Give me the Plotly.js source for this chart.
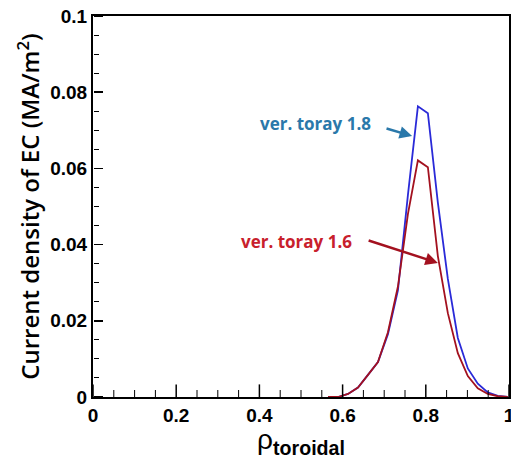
<!DOCTYPE html>
<html>
<head>
<meta charset="utf-8">
<script src="https://cdn.plot.ly/plotly-3.0.1.min.js"></script>
<style>html,body{margin:0;padding:0;background:#fff;}#chart{width:511px;height:459px;}</style>
</head>
<body>
<div id="chart"></div>
<script>
const rho = [0.565, 0.589, 0.613, 0.637, 0.661, 0.685, 0.709, 0.733, 0.757, 0.781, 0.805, 0.829, 0.853, 0.877, 0.901, 0.925, 0.949, 0.973, 0.997];
const toray18 = [0, 0, 0.0008, 0.0025, 0.0058, 0.0092, 0.0165, 0.028, 0.053, 0.0763, 0.0745, 0.051, 0.031, 0.0155, 0.0075, 0.0035, 0.0012, 0.0003, 0];
const toray16 = [0, 0, 0.0008, 0.0025, 0.0058, 0.0092, 0.017, 0.029, 0.048, 0.0621, 0.0603, 0.037, 0.022, 0.0115, 0.0055, 0.0023, 0.0008, 0.0002, 0];
const xTicks = [0, 0.2, 0.4, 0.6, 0.8, 1];
const xMinorTicks = [0.05, 0.1, 0.15, 0.25, 0.3, 0.35, 0.45, 0.5, 0.55, 0.65, 0.7, 0.75, 0.85, 0.9, 0.95];
const xTickLabels = ['0', '0.2', '0.4', '0.6', '0.8', '1'];
const yTicks = [0, 0.02, 0.04, 0.06, 0.08, 0.1];
const yTickLabels = ['0', '0.02', '0.04', '0.06', '0.08', '0.1'];
const label18 = 'ver. toray 1.8';
const label16 = 'ver. toray 1.6';
const xTitle = 'ρ<sub><b>toroidal</b></sub>';
const yTitle = 'Current density of EC (MA/m<sup>2</sup>)';

const blue = '#2a2ad8';
const red = '#a3111f';
const blueText = '#2a78aa';
const redText = '#c8202c';

const helper = (xa, ya) => ({x: rho, y: toray18, xaxis: xa, yaxis: ya, mode: 'markers', marker: {opacity: 0}, hoverinfo: 'skip'});
// x-axis tick marks drawn as vertical line markers sitting on the bottom axis (lower half clipped by the plot area)
const xTickMarks = (vals, len, w) => ({
  x: vals, y: vals.map(() => 0), mode: 'markers', cliponaxis: true, hoverinfo: 'skip',
  marker: {symbol: 'line-ns', size: len * 2, color: '#000', line: {color: '#000', width: w}}
});

const traces = [
  {x: rho, y: toray18, mode: 'lines', line: {color: blue, width: 1.8}, name: label18},
  {x: rho, y: toray16, mode: 'lines', line: {color: red, width: 1.8}, name: label16},
  xTickMarks(xTicks, 9, 1.5),
  xTickMarks(xMinorTicks, 5, 1),
  // invisible helpers so the tick-only y axes (major / minor ticks pointing inward) are drawn
  helper('x', 'y2'), helper('x', 'y3')
];

const tickFont = {family: 'Liberation Sans, Arial, sans-serif', size: 19, color: '#000', weight: 'bold'};
const bold = a => a.map(s => '<b>' + s + '</b>');
const tickAxis = (extra) => Object.assign({
  ticks: 'outside', tickcolor: '#000', showticklabels: false,
  showgrid: false, zeroline: false, showline: false, anchor: 'free', position: 0
}, extra);

const layout = {
  width: 511, height: 459,
  margin: {l: 93, r: 2, t: 16, b: 62},
  paper_bgcolor: '#fff', plot_bgcolor: '#fff',
  showlegend: false,
  xaxis: {
    range: [0, 1], tickmode: 'array', tickvals: xTicks, ticktext: bold(xTickLabels),
    ticks: '', showline: true, linecolor: '#000', linewidth: 2, mirror: true,
    showgrid: false, zeroline: false, tickfont: tickFont, ticklabeloverflow: 'allow',
    title: {text: xTitle, font: {family: 'Liberation Sans, Arial, sans-serif', size: 28, color: '#000'}, standoff: 6}
  },
  yaxis: {
    range: [0, 0.1], tickmode: 'array', tickvals: yTicks, ticktext: bold(yTickLabels),
    ticks: '', showline: true, linecolor: '#000', linewidth: 2, mirror: true,
    showgrid: false, zeroline: false, tickfont: tickFont,
    title: {text: yTitle, font: {family: 'Open Sans, sans-serif', size: 24, color: '#000', weight: 600}, standoff: 4}
  },
  yaxis2: tickAxis({overlaying: 'y', side: 'right', range: [0, 0.1], tickmode: 'array', tickvals: yTicks, ticklen: 9, tickwidth: 1.5}),
  yaxis3: tickAxis({overlaying: 'y', side: 'right', range: [0, 0.1], tick0: 0, dtick: 0.005, ticklen: 5, tickwidth: 1}),
  annotations: [
    {x: 0.536, y: 0.0717, xref: 'x', yref: 'y', text: '<b>' + label18 + '</b>', showarrow: false,
     font: {family: 'Open Sans, sans-serif', size: 17, color: blueText}},
    {x: 0.767, y: 0.0685, ax: 0.702, ay: 0.0706, xref: 'x', yref: 'y', axref: 'x', ayref: 'y', text: '',
     showarrow: true, arrowhead: 2, arrowsize: 1, arrowwidth: 2.5, arrowcolor: blueText},
    {x: 0.49, y: 0.0409, xref: 'x', yref: 'y', text: '<b>' + label16 + '</b>', showarrow: false,
     font: {family: 'Open Sans, sans-serif', size: 17, color: redText}},
    {x: 0.829, y: 0.0352, ax: 0.659, ay: 0.0412, xref: 'x', yref: 'y', axref: 'x', ayref: 'y', text: '',
     showarrow: true, arrowhead: 2, arrowsize: 1, arrowwidth: 2.5, arrowcolor: red}
  ]
};

Plotly.newPlot('chart', traces, layout, {staticPlot: true, displayModeBar: false});
</script>
</body>
</html>
